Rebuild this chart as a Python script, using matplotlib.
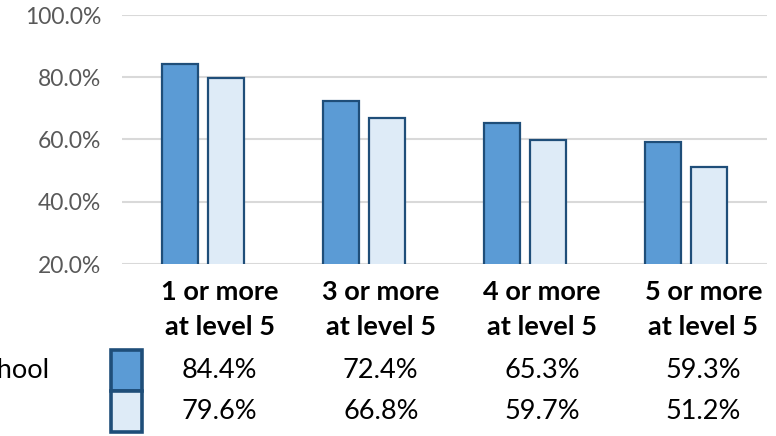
import matplotlib
matplotlib.use("Agg")
import matplotlib.pyplot as plt
from matplotlib.patches import Rectangle
import matplotlib.transforms as mtransforms
import numpy as np

categories_line1 = ["1 or more", "3 or more", "4 or more", "5 or more"]
categories_line2 = ["at level 5", "at level 5", "at level 5", "at level 5"]
school = [84.4, 72.4, 65.3, 59.3]
comparison = [79.6, 66.8, 59.7, 51.2]
series_labels = ["School", ""]
yticks = [20, 40, 60, 80, 100]

DARK = "#5B9BD5"
LIGHT = "#DEEBF7"
EDGE = "#1F4E79"
GRID = "#D9D9D9"
TICK = "#595959"
FONT = "Lato"

W, H = 776, 436
fig = plt.figure(figsize=(W / 100, H / 100), dpi=100)
ax = fig.add_axes([122 / W, 1 - 264 / H, (767 - 122) / W, (264 - 15) / H])

x = np.arange(len(categories_line1))
bw = 0.224
off = 0.143
ax.bar(x - off, school, bottom=0, width=bw, color=DARK, edgecolor=EDGE, linewidth=1.6, zorder=3)
ax.bar(x + off, comparison, bottom=0, width=bw, color=LIGHT, edgecolor=EDGE, linewidth=1.6, zorder=3)

ax.set_xlim(-0.5, len(categories_line1) - 0.5)
ax.set_ylim(20, 100)
ax.set_yticks(yticks)
ax.set_yticklabels([f"{v:.1f}%" for v in yticks], fontsize=16.5, color=TICK, family=FONT)
ax.tick_params(axis="y", length=0, pad=15)
ax.set_xticks([])
ax.grid(axis="y", color=GRID, linewidth=1.5, zorder=0)
for s in ax.spines.values():
    s.set_visible(False)

# category labels and data table below the axes
trans = mtransforms.blended_transform_factory(ax.transData, fig.transFigure)
def fy(py):
    return 1 - py / H

for i in range(len(categories_line1)):
    xc = x[i] + 0.105
    ax.text(xc, fy(292), categories_line1[i], transform=trans, ha="center", va="center",
            fontsize=19.5, fontweight="bold", family=FONT, color="black")
    ax.text(xc, fy(327), categories_line2[i], transform=trans, ha="center", va="center",
            fontsize=19.5, fontweight="bold", family=FONT, color="black")
    ax.text(xc, fy(371), f"{school[i]:.1f}%", transform=trans, ha="center", va="center",
            fontsize=19.5, family=FONT, color="black")
    ax.text(xc, fy(411), f"{comparison[i]:.1f}%", transform=trans, ha="center", va="center",
            fontsize=19.5, family=FONT, color="black")

# legend keys in data table
fig.patches.append(Rectangle((111 / W, fy(391)), 31 / W, 41 / H, transform=fig.transFigure,
                             facecolor=DARK, edgecolor=EDGE, linewidth=2.6))
fig.patches.append(Rectangle((111 / W, fy(432)), 31 / W, 41 / H, transform=fig.transFigure,
                             facecolor=LIGHT, edgecolor=EDGE, linewidth=2.6))
fig.text(49 / W, fy(371), series_labels[0], ha="right", va="center", fontsize=19.5,
         family=FONT, color="black")

fig.savefig("out.png", dpi=100)
